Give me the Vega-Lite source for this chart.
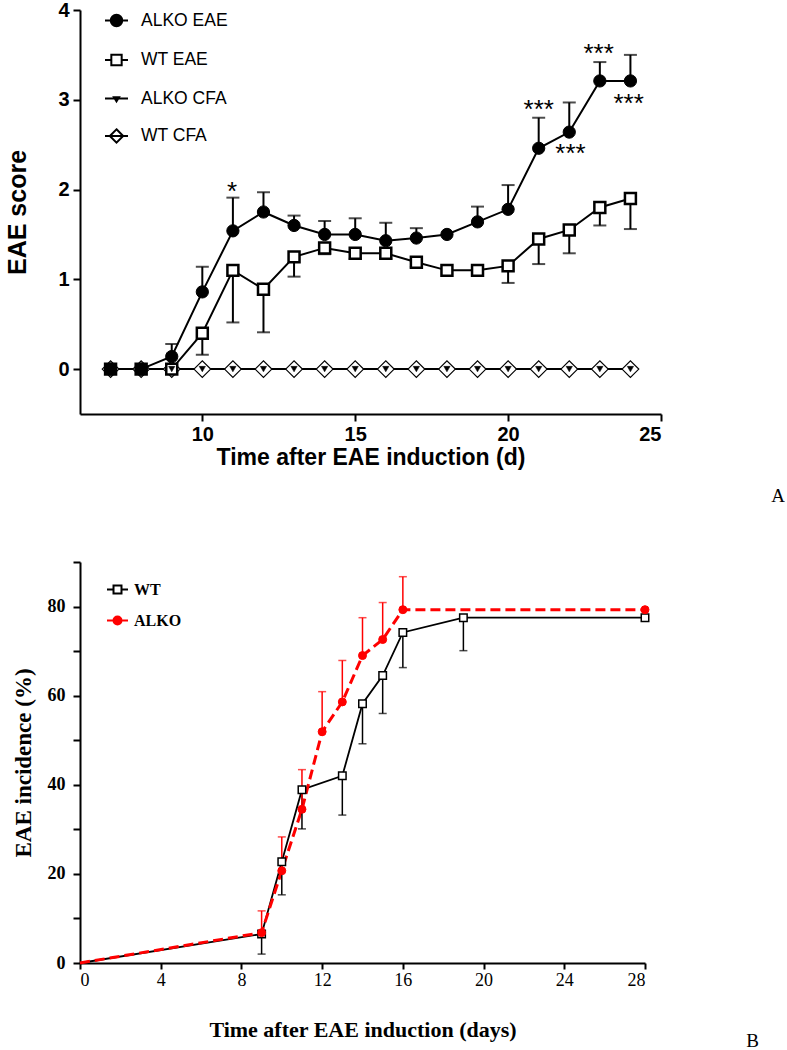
{
  "$schema": "https://vega.github.io/schema/vega-lite/v6.json",
  "background": "white",
  "padding": {"left": 5, "top": 0, "right": 0, "bottom": 0},
  "config": {"view": {"stroke": null}, "axis": {"grid": false}},
  "spacing": 148,
  "bounds": "flush",
  "resolve": {
    "scale": {"shape": "independent", "fill": "independent", "stroke": "independent", "size": "independent", "strokeWidth": "independent", "color": "independent", "strokeDash": "independent"},
    "legend": {"shape": "independent", "fill": "independent", "stroke": "independent", "size": "independent", "strokeWidth": "independent", "color": "independent", "strokeDash": "independent"}
  },
  "datasets": {
    "scoreA": [
      {"series": "WT CFA", "day": 7, "score": 0, "err": null},
      {"series": "WT CFA", "day": 8, "score": 0, "err": null},
      {"series": "WT CFA", "day": 9, "score": 0, "err": null},
      {"series": "WT CFA", "day": 10, "score": 0, "err": null},
      {"series": "WT CFA", "day": 11, "score": 0, "err": null},
      {"series": "WT CFA", "day": 12, "score": 0, "err": null},
      {"series": "WT CFA", "day": 13, "score": 0, "err": null},
      {"series": "WT CFA", "day": 14, "score": 0, "err": null},
      {"series": "WT CFA", "day": 15, "score": 0, "err": null},
      {"series": "WT CFA", "day": 16, "score": 0, "err": null},
      {"series": "WT CFA", "day": 17, "score": 0, "err": null},
      {"series": "WT CFA", "day": 18, "score": 0, "err": null},
      {"series": "WT CFA", "day": 19, "score": 0, "err": null},
      {"series": "WT CFA", "day": 20, "score": 0, "err": null},
      {"series": "WT CFA", "day": 21, "score": 0, "err": null},
      {"series": "WT CFA", "day": 22, "score": 0, "err": null},
      {"series": "WT CFA", "day": 23, "score": 0, "err": null},
      {"series": "WT CFA", "day": 24, "score": 0, "err": null},
      {"series": "WT EAE", "day": 7, "score": 0, "err": null},
      {"series": "WT EAE", "day": 8, "score": 0, "err": null},
      {"series": "WT EAE", "day": 9, "score": 0, "err": null},
      {"series": "WT EAE", "day": 10, "score": 0.40, "err": 0.16},
      {"series": "WT EAE", "day": 11, "score": 1.10, "err": 0.52},
      {"series": "WT EAE", "day": 12, "score": 0.89, "err": 0.41},
      {"series": "WT EAE", "day": 13, "score": 1.25, "err": 1.03},
      {"series": "WT EAE", "day": 14, "score": 1.35, "err": 1.28},
      {"series": "WT EAE", "day": 15, "score": 1.29, "err": 1.23},
      {"series": "WT EAE", "day": 16, "score": 1.29, "err": 1.23},
      {"series": "WT EAE", "day": 17, "score": 1.19, "err": 1.14},
      {"series": "WT EAE", "day": 18, "score": 1.10, "err": null},
      {"series": "WT EAE", "day": 19, "score": 1.10, "err": null},
      {"series": "WT EAE", "day": 20, "score": 1.15, "err": 0.96},
      {"series": "WT EAE", "day": 21, "score": 1.45, "err": 1.17},
      {"series": "WT EAE", "day": 22, "score": 1.55, "err": 1.29},
      {"series": "WT EAE", "day": 23, "score": 1.80, "err": 1.60},
      {"series": "WT EAE", "day": 24, "score": 1.90, "err": 1.56},
      {"series": "ALKO CFA", "day": 7, "score": 0, "err": null},
      {"series": "ALKO CFA", "day": 8, "score": 0, "err": null},
      {"series": "ALKO CFA", "day": 9, "score": 0, "err": null},
      {"series": "ALKO CFA", "day": 10, "score": 0, "err": null},
      {"series": "ALKO CFA", "day": 11, "score": 0, "err": null},
      {"series": "ALKO CFA", "day": 12, "score": 0, "err": null},
      {"series": "ALKO CFA", "day": 13, "score": 0, "err": null},
      {"series": "ALKO CFA", "day": 14, "score": 0, "err": null},
      {"series": "ALKO CFA", "day": 15, "score": 0, "err": null},
      {"series": "ALKO CFA", "day": 16, "score": 0, "err": null},
      {"series": "ALKO CFA", "day": 17, "score": 0, "err": null},
      {"series": "ALKO CFA", "day": 18, "score": 0, "err": null},
      {"series": "ALKO CFA", "day": 19, "score": 0, "err": null},
      {"series": "ALKO CFA", "day": 20, "score": 0, "err": null},
      {"series": "ALKO CFA", "day": 21, "score": 0, "err": null},
      {"series": "ALKO CFA", "day": 22, "score": 0, "err": null},
      {"series": "ALKO CFA", "day": 23, "score": 0, "err": null},
      {"series": "ALKO CFA", "day": 24, "score": 0, "err": null},
      {"series": "ALKO EAE", "day": 7, "score": 0, "err": null},
      {"series": "ALKO EAE", "day": 8, "score": 0, "err": null},
      {"series": "ALKO EAE", "day": 9, "score": 0.14, "err": 0.28},
      {"series": "ALKO EAE", "day": 10, "score": 0.86, "err": 1.14},
      {"series": "ALKO EAE", "day": 11, "score": 1.54, "err": 1.91},
      {"series": "ALKO EAE", "day": 12, "score": 1.75, "err": 1.97},
      {"series": "ALKO EAE", "day": 13, "score": 1.60, "err": 1.71},
      {"series": "ALKO EAE", "day": 14, "score": 1.50, "err": 1.65},
      {"series": "ALKO EAE", "day": 15, "score": 1.50, "err": 1.68},
      {"series": "ALKO EAE", "day": 16, "score": 1.43, "err": 1.63},
      {"series": "ALKO EAE", "day": 17, "score": 1.46, "err": 1.57},
      {"series": "ALKO EAE", "day": 18, "score": 1.50, "err": null},
      {"series": "ALKO EAE", "day": 19, "score": 1.64, "err": 1.81},
      {"series": "ALKO EAE", "day": 20, "score": 1.78, "err": 2.05},
      {"series": "ALKO EAE", "day": 21, "score": 2.46, "err": 2.80},
      {"series": "ALKO EAE", "day": 22, "score": 2.64, "err": 2.97},
      {"series": "ALKO EAE", "day": 23, "score": 3.21, "err": 3.42},
      {"series": "ALKO EAE", "day": 24, "score": 3.21, "err": 3.50}
    ],
    "starsA": [
      {"day": 10.97, "y": 2.04, "label": "*"},
      {"day": 21, "y": 2.95, "label": "***"},
      {"day": 22.04, "y": 2.46, "label": "***"},
      {"day": 22.96, "y": 3.58, "label": "***"},
      {"day": 23.94, "y": 3.02, "label": "***"}
    ],
    "incB": [
      {"group": "WT", "day": 0, "pct": 0, "err": null},
      {"group": "WT", "day": 9, "pct": 6.5, "err": 2.0},
      {"group": "WT", "day": 10, "pct": 22.7, "err": 15.3},
      {"group": "WT", "day": 11, "pct": 38.9, "err": 30.1},
      {"group": "WT", "day": 13, "pct": 42.0, "err": 33.2},
      {"group": "WT", "day": 14, "pct": 58.2, "err": 49.2},
      {"group": "WT", "day": 15, "pct": 64.5, "err": 56.0},
      {"group": "WT", "day": 16, "pct": 74.2, "err": 66.3},
      {"group": "WT", "day": 19, "pct": 77.5, "err": 70.1},
      {"group": "WT", "day": 28, "pct": 77.5, "err": null},
      {"group": "ALKO", "day": 0, "pct": 0, "err": null},
      {"group": "ALKO", "day": 9, "pct": 6.8, "err": 11.7},
      {"group": "ALKO", "day": 10, "pct": 20.7, "err": 28.3},
      {"group": "ALKO", "day": 11, "pct": 34.5, "err": 43.4},
      {"group": "ALKO", "day": 12, "pct": 51.9, "err": 60.9},
      {"group": "ALKO", "day": 13, "pct": 58.6, "err": 67.9},
      {"group": "ALKO", "day": 14, "pct": 69.0, "err": 77.5},
      {"group": "ALKO", "day": 15, "pct": 72.6, "err": 80.9},
      {"group": "ALKO", "day": 16, "pct": 79.3, "err": 86.7},
      {"group": "ALKO", "day": 28, "pct": 79.3, "err": null}
    ]
  },
  "vconcat": [
    {
      "width": 581,
      "height": 404,
      "title": {"text": "A", "orient": "bottom", "anchor": "end", "frame": "group", "font": "Liberation Serif", "fontSize": 19, "fontWeight": "normal", "color": "black", "dx": 124, "offset": 18},
      "data": {"name": "scoreA"},
      "encoding": {
        "x": {"field": "day", "type": "quantitative", "scale": {"domain": [6, 25], "nice": false, "zero": false},
          "axis": {"values": [10, 15, 20, 25], "title": "Time after EAE induction (d)", "titleFont": "Liberation Sans", "titleFontSize": 23, "titleFontWeight": "bold", "titleColor": "black", "titlePadding": 2, "labelFont": "Liberation Sans", "labelFontSize": 20, "labelFontWeight": "bold", "labelColor": "black", "domainColor": "black", "domainWidth": 2, "tickColor": "black", "tickWidth": 2, "tickSize": 7, "labelPadding": 3}},
        "y": {"field": "score", "type": "quantitative", "scale": {"domain": [-0.5, 4], "nice": false, "zero": false},
          "axis": {"values": [0, 1, 2, 3, 4], "title": "EAE score", "titleFont": "Liberation Sans", "titleFontSize": 25, "titleFontWeight": "bold", "titleColor": "black", "titlePadding": 27, "labelFont": "Liberation Sans", "labelFontSize": 20, "labelFontWeight": "bold", "labelColor": "black", "domainColor": "black", "domainWidth": 2, "tickColor": "black", "tickWidth": 2, "tickSize": 7, "labelPadding": 4}}
      },
      "layer": [
        {
          "mark": {"type": "line", "color": "black", "strokeWidth": 2},
          "encoding": {"detail": {"field": "series"}}
        },
        {
          "transform": [{"filter": "datum.err != null"}],
          "mark": {"type": "rule", "color": "black", "strokeWidth": 2},
          "encoding": {"y2": {"field": "err"}}
        },
        {
          "transform": [{"filter": "datum.err != null"}],
          "mark": {"type": "tick", "orient": "horizontal", "color": "black", "thickness": 2, "size": 13},
          "encoding": {"y": {"field": "err", "type": "quantitative"}}
        },
        {
          "transform": [{"filter": "datum.series === 'WT CFA'"}],
          "mark": {"type": "point", "shape": "diamond", "size": 280, "filled": true, "fill": "white", "stroke": "black", "strokeWidth": 1.2, "opacity": 1}
        },
        {
          "transform": [{"filter": "datum.series === 'WT EAE'"}],
          "mark": {"type": "point", "shape": "square", "size": 120, "filled": true, "fill": "white", "stroke": "black", "strokeWidth": 2.5, "opacity": 1}
        },
        {
          "transform": [{"filter": "datum.series === 'ALKO CFA'"}],
          "mark": {"type": "point", "shape": "triangle-down", "size": 40, "filled": true, "fill": "black", "stroke": "black", "strokeWidth": 0.5, "opacity": 1}
        },
        {
          "transform": [{"filter": "datum.series === 'ALKO EAE'"}],
          "mark": {"type": "point", "shape": "circle", "size": 150, "filled": true, "fill": "black", "stroke": "black", "strokeWidth": 1, "opacity": 1}
        },
        {
          "mark": {"type": "point", "filled": true, "opacity": 0},
          "encoding": {
            "shape": {"field": "series", "type": "nominal",
              "scale": {"domain": ["ALKO EAE", "WT EAE", "ALKO CFA", "WT CFA"],
                "range": ["M-1,0H1M0.5,0A0.5,0.5,0,1,1,-0.5,0A0.5,0.5,0,1,1,0.5,0Z", "M-1,0H-0.45M0.45,0H1M-0.45,-0.45H0.45V0.45H-0.45Z", "M-1,0H1M-0.22,-0.1H0.22L0,0.25Z", "M-1,0H1M0,-0.58L0.58,0L0,0.58L-0.58,0Z"]},
              "legend": {"title": null, "orient": "none", "legendX": 24, "legendY": -2, "padding": 0, "symbolSize": 529, "symbolOpacity": 1, "symbolStrokeWidth": 2, "rowPadding": 16.5, "labelOffset": 12, "labelFont": "Liberation Sans", "labelFontSize": 17.5, "labelColor": "black"}},
            "fill": {"field": "series", "type": "nominal",
              "scale": {"domain": ["ALKO EAE", "WT EAE", "ALKO CFA", "WT CFA"], "range": ["black", "white", "black", "white"]},
              "legend": {"title": null, "orient": "none", "legendX": 24, "legendY": -2, "padding": 0, "symbolSize": 529, "symbolOpacity": 1, "symbolStrokeWidth": 2, "rowPadding": 16.5, "labelOffset": 12, "labelFont": "Liberation Sans", "labelFontSize": 17.5, "labelColor": "black"}},
            "stroke": {"value": "black"}
          }
        },
        {
          "data": {"name": "starsA"},
          "mark": {"type": "text", "font": "Liberation Sans", "fontSize": 26, "baseline": "alphabetic", "dy": 14, "color": "black"},
          "encoding": {
            "y": {"field": "y", "type": "quantitative"},
            "text": {"field": "label"}
          }
        }
      ]
    },
    {
      "width": 565,
      "height": 401,
      "title": {"text": "B", "orient": "bottom", "anchor": "end", "frame": "group", "font": "Liberation Serif", "fontSize": 19, "fontWeight": "normal", "color": "black", "dx": 114, "offset": -8},
      "data": {"name": "incB"},
      "encoding": {
        "x": {"field": "day", "type": "quantitative", "scale": {"domain": [0, 28], "nice": false},
          "axis": {"values": [0, 4, 8, 12, 16, 20, 24, 28], "title": "Time after EAE induction (days)", "titleFont": "Liberation Serif", "titleFontSize": 22, "titleFontWeight": "bold", "titleColor": "black", "titlePadding": 30, "labelFont": "Liberation Serif", "labelFontSize": 18, "labelColor": "black", "domainColor": "black", "domainWidth": 2, "tickColor": "black", "tickWidth": 2, "tickSize": 6, "labelPadding": 2}},
        "y": {"field": "pct", "type": "quantitative", "scale": {"domain": [0, 90], "nice": false},
          "axis": {"values": [0, 10, 20, 30, 40, 50, 60, 70, 80, 90], "labelExpr": "datum.value % 20 === 0 ? datum.label : ''", "title": "EAE incidence (%)", "titleFont": "Liberation Serif", "titleFontSize": 23, "titleFontWeight": "bold", "titleColor": "black", "titlePadding": 12, "labelFont": "Liberation Serif", "labelFontSize": 18, "labelFontWeight": "bold", "labelColor": "black", "domainColor": "black", "domainWidth": 2, "tickColor": "black", "tickWidth": 2, "tickSize": 7, "labelPadding": 8}}
      },
      "layer": [
        {
          "transform": [{"filter": "datum.group === 'WT'"}],
          "mark": {"type": "line", "color": "black", "strokeWidth": 1.8}
        },
        {
          "transform": [{"filter": "datum.group === 'ALKO'"}],
          "mark": {"type": "line", "color": "#ff0000", "strokeWidth": 3, "strokeDash": [10, 5]}
        },
        {
          "transform": [{"filter": "datum.err != null && datum.group === 'WT'"}],
          "mark": {"type": "rule", "strokeWidth": 1.5, "color": "black"},
          "encoding": {"y2": {"field": "err"}}
        },
        {
          "transform": [{"filter": "datum.err != null && datum.group === 'ALKO'"}],
          "mark": {"type": "rule", "strokeWidth": 1.5, "color": "#ff0000"},
          "encoding": {"y2": {"field": "err"}}
        },
        {
          "transform": [{"filter": "datum.err != null && datum.group === 'WT'"}],
          "mark": {"type": "tick", "orient": "horizontal", "thickness": 1.5, "size": 8, "color": "black"},
          "encoding": {"y": {"field": "err", "type": "quantitative"}}
        },
        {
          "transform": [{"filter": "datum.err != null && datum.group === 'ALKO'"}],
          "mark": {"type": "tick", "orient": "horizontal", "thickness": 1.5, "size": 8, "color": "#ff0000"},
          "encoding": {"y": {"field": "err", "type": "quantitative"}}
        },
        {
          "transform": [{"filter": "datum.day > 0 && datum.group === 'WT'"}],
          "mark": {"type": "point", "shape": "square", "size": 56, "filled": true, "fill": "white", "stroke": "black", "strokeWidth": 1.5, "opacity": 1}
        },
        {
          "transform": [{"filter": "datum.day > 0 && datum.group === 'ALKO'"}],
          "mark": {"type": "point", "shape": "circle", "size": 64, "filled": true, "fill": "#ff0000", "stroke": "#ff0000", "strokeWidth": 1, "opacity": 1}
        },
        {
          "mark": {"type": "point", "filled": true, "opacity": 0},
          "encoding": {
            "shape": {"field": "group", "type": "nominal",
              "scale": {"domain": ["WT", "ALKO"],
                "range": ["M-1,0H-0.38M0.38,0H1M-0.38,-0.38H0.38V0.38H-0.38Z", "M-1,0H-0.38M0.38,0H1M0.38,0A0.38,0.38,0,1,1,-0.38,0A0.38,0.38,0,1,1,0.38,0Z"]},
              "legend": {"title": null, "orient": "none", "legendX": 26, "legendY": 16, "padding": 0, "symbolSize": 441, "symbolOpacity": 1, "symbolStrokeWidth": 2, "rowPadding": 11, "labelOffset": 5, "labelFont": "Liberation Serif", "labelFontSize": 16, "labelFontWeight": "bold", "labelColor": "black"}},
            "fill": {"field": "group", "type": "nominal",
              "scale": {"domain": ["WT", "ALKO"], "range": ["white", "#ff0000"]},
              "legend": {"title": null, "orient": "none", "legendX": 26, "legendY": 16, "padding": 0, "symbolSize": 441, "symbolOpacity": 1, "symbolStrokeWidth": 2, "rowPadding": 11, "labelOffset": 5, "labelFont": "Liberation Serif", "labelFontSize": 16, "labelFontWeight": "bold", "labelColor": "black"}},
            "stroke": {"field": "group", "type": "nominal",
              "scale": {"domain": ["WT", "ALKO"], "range": ["black", "#ff0000"]},
              "legend": {"title": null, "orient": "none", "legendX": 26, "legendY": 16, "padding": 0, "symbolSize": 441, "symbolOpacity": 1, "symbolStrokeWidth": 2, "rowPadding": 11, "labelOffset": 5, "labelFont": "Liberation Serif", "labelFontSize": 16, "labelFontWeight": "bold", "labelColor": "black"}}
          }
        }
      ]
    }
  ]
}
